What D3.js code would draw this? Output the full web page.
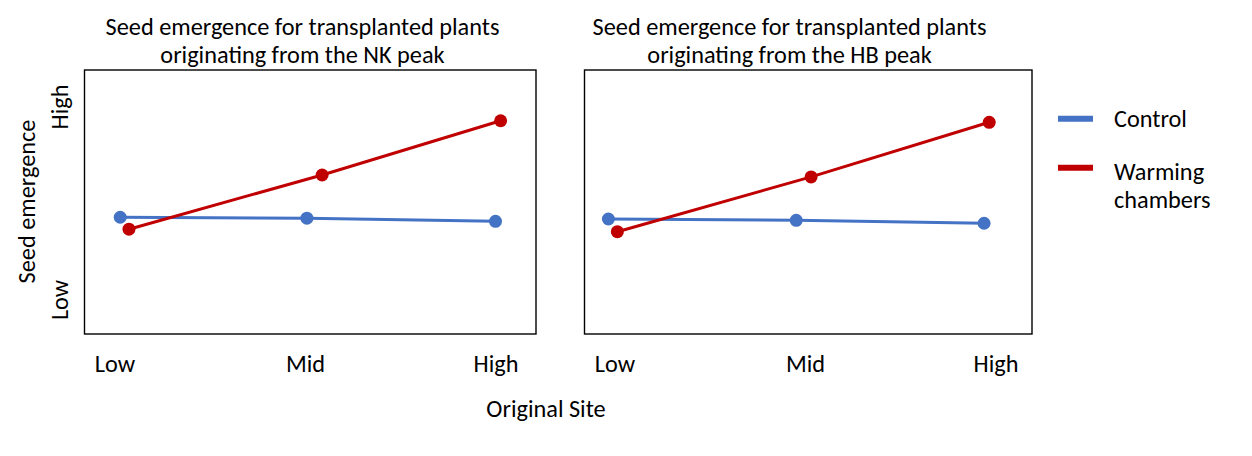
<!DOCTYPE html>
<html>
<head>
<meta charset="utf-8">
<script src="https://cdn.jsdelivr.net/npm/d3@7"></script>
<style>
  body { margin: 0; background: #fff; }
  text { font-family: Carlito, Calibri, Lato, sans-serif; fill: #000; }
</style>
</head>
<body>
<svg id="chart" width="1252" height="456"></svg>
<script>
// values
var sites = ["Low", "Mid", "High"];
var emergenceTicks = ["Low", "High"];
var seriesNames = ["Control", "Warming chambers"];
var titleNK = ["Seed emergence for transplanted plants", "originating from the NK peak"];
var titleHB = ["Seed emergence for transplanted plants", "originating from the HB peak"];

// site position: 0 = Low, 1 = Mid, 2 = High (points are slightly dodged in the original)
// emergence: 0 = "Low" tick, 1 = "High" tick
var nkControlX = [0.03, 1.01, 2.0];
var nkControlY = [0.426, 0.421, 0.405];
var nkWarmingX = [0.076, 1.09, 2.027];
var nkWarmingY = [0.364, 0.645, 0.926];

var hbControlX = [-0.032, 0.954, 1.94];
var hbControlY = [0.417, 0.410, 0.395];
var hbWarmingX = [0.015, 1.032, 1.967];
var hbWarmingY = [0.351, 0.635, 0.918];

var colors = ["#4472C4", "#C00000"];
var fontSize = 24.3;

var svg = d3.select("#chart");

var plotTop = 70, plotH = 264;

var yScale = d3.scaleLinear()
    .domain([-0.179, 1.189])
    .range([plotH, 0]);

var xScale = d3.scaleLinear()
    .domain([0, 2])
    .range([30, 411]);

function zip(xs, ys) {
    return xs.map(function (x, i) { return [x, ys[i]]; });
}

var panels = [
    { left: 84.5, width: 451.5, titleX: 302.5, title: titleNK, yLabels: true,
      series: [zip(nkControlX, nkControlY), zip(nkWarmingX, nkWarmingY)] },
    { left: 584.5, width: 447.5, titleX: 789.5, title: titleHB, yLabels: false,
      series: [zip(hbControlX, hbControlY), zip(hbWarmingX, hbWarmingY)] }
];

var line = d3.line()
    .x(function (d) { return xScale(d[0]); })
    .y(function (d) { return yScale(d[1]); });

panels.forEach(function (p) {
    // title, two lines
    var title = svg.append("text")
        .attr("text-anchor", "middle")
        .style("font-size", fontSize + "px");
    title.selectAll("tspan")
        .data(p.title)
        .enter().append("tspan")
        .attr("x", p.titleX)
        .attr("y", function (d, i) { return 35 + i * 28; })
        .text(function (d) { return d; });

    var g = svg.append("g")
        .attr("transform", "translate(" + p.left + "," + plotTop + ")");

    g.append("rect")
        .attr("width", p.width)
        .attr("height", plotH)
        .attr("fill", "none")
        .attr("stroke", "#000")
        .attr("stroke-width", 1.4);

    // site labels under the box
    var xAxis = g.append("g")
        .call(d3.axisBottom(xScale)
            .tickValues([0, 1, 2])
            .tickFormat(function (d) { return sites[d]; })
            .tickSize(0));
    xAxis.select(".domain").remove();
    xAxis.selectAll("text")
        .attr("y", 302)
        .attr("dy", null)
        .style("font-size", fontSize + "px")
        .style("font-family", null);

    if (p.yLabels) {
        var yAxis = g.append("g")
            .call(d3.axisLeft(yScale)
                .tickValues([0, 1])
                .tickFormat(function (d) { return emergenceTicks[d]; })
                .tickSize(0));
        yAxis.select(".domain").remove();
        yAxis.selectAll("text")
            .attr("transform", "rotate(-90)")
            .attr("x", 0)
            .attr("y", -17)
            .attr("dy", null)
            .attr("text-anchor", "middle")
            .style("font-size", fontSize + "px")
            .style("font-family", null);
    }

    p.series.forEach(function (pts, s) {
        g.append("path")
            .datum(pts)
            .attr("d", line)
            .attr("fill", "none")
            .attr("stroke", colors[s])
            .attr("stroke-width", 3);

        g.selectAll("circle.s" + s)
            .data(pts)
            .enter().append("circle")
            .attr("class", "s" + s)
            .attr("cx", function (d) { return xScale(d[0]); })
            .attr("cy", function (d) { return yScale(d[1]); })
            .attr("r", 6.5)
            .attr("fill", colors[s]);
    });
});

// axis titles
svg.append("text")
    .attr("text-anchor", "middle")
    .attr("transform", "translate(35,201.5)rotate(-90)")
    .style("font-size", fontSize + "px")
    .text("Seed emergence");

svg.append("text")
    .attr("x", 546)
    .attr("y", 417)
    .attr("text-anchor", "middle")
    .style("font-size", fontSize + "px")
    .text("Original Site");

// legend
var legend = svg.append("g")
    .attr("transform", "translate(1058,0)");

var legendRows = [
    { lineY: 118.7, lines: ["Control"], baseY: 127 },
    { lineY: 167.7, lines: ["Warming", "chambers"], baseY: 180 }
];

legendRows.forEach(function (r, i) {
    legend.append("line")
        .attr("x1", 0)
        .attr("x2", 35)
        .attr("y1", r.lineY)
        .attr("y2", r.lineY)
        .attr("stroke", colors[i])
        .attr("stroke-width", 6);
    var t = legend.append("text")
        .style("font-size", fontSize + "px");
    t.selectAll("tspan")
        .data(r.lines)
        .enter().append("tspan")
        .attr("x", 56)
        .attr("y", function (d, j) { return r.baseY + j * 28; })
        .text(function (d) { return d; });
});
</script>
</body>
</html>
